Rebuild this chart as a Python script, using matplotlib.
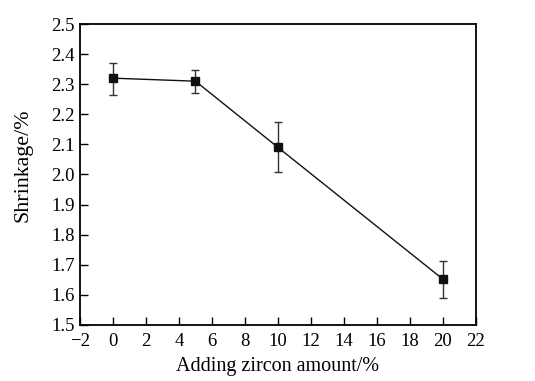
import matplotlib
matplotlib.use("Agg")
import matplotlib.pyplot as plt

zircon = [0, 5, 10, 20]
shrinkage = [2.32, 2.31, 2.09, 1.652]
err_low = [0.055, 0.038, 0.083, 0.062]
err_high = [0.052, 0.037, 0.085, 0.060]

plt.rcParams['font.family'] = ['Liberation Serif', 'DejaVu Serif']
plt.rcParams['font.size'] = 13.5

fig = plt.figure(figsize=(5.35, 3.81), dpi=100)
ax = fig.add_axes([0.1495, 0.147, 0.7402, 0.790])
ax.errorbar(zircon, shrinkage, yerr=[err_low, err_high], color='#111111',
            marker='s', markersize=6, linewidth=1.0, elinewidth=1.0,
            capsize=3, capthick=1.0, ecolor='#333333')
ax.set_xlim(-2, 22)
ax.set_ylim(1.5, 2.5)
ax.set_xticks(range(-2, 23, 2))
ax.set_xticklabels(['\u22122'] + [str(v) for v in range(0, 23, 2)])
ax.set_yticks([1.5 + 0.1 * i for i in range(11)])
ax.set_yticklabels(['%.1f' % (1.5 + 0.1 * i) for i in range(11)])
ax.tick_params(axis='both', direction='in', length=6, width=1.0)
ax.tick_params(axis='x', pad=6)
ax.tick_params(axis='y', pad=4)
for s in ax.spines.values():
    s.set_linewidth(1.3)
ax.set_xlabel('Adding zircon amount/%', fontsize=14.5)
ax.xaxis.set_label_coords(0.5, -0.108)
ax.set_ylabel('Shrinkage/%', fontsize=15.8)
ax.yaxis.set_label_coords(-0.121, 0.532)
fig.savefig('out.png', dpi=100)
